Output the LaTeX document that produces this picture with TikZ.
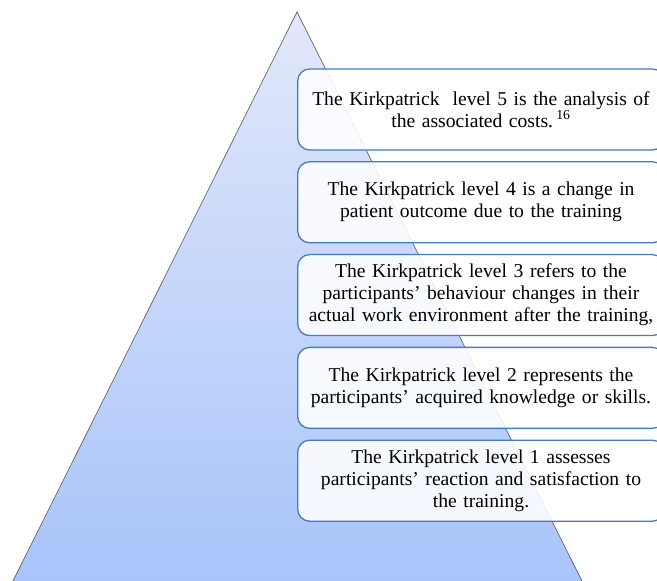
\documentclass[tikz,border=0pt]{standalone}
\usepackage{fontspec}
\setmainfont{Liberation Serif}
\usepackage{xcolor}
\usepackage{tikz}
\usetikzlibrary{positioning}

\definecolor{pyrtop}{RGB}{226,232,250}
\definecolor{pyrbottom}{RGB}{168,196,250}
\definecolor{boxline}{RGB}{72,122,190}

\begin{document}
\begin{tikzpicture}[
    x=1pt, y=1pt,
    node distance=10.5pt,
    levelbox/.style={rectangle, draw=boxline, line width=1.3pt, rounded corners=12pt, fill=white, fill opacity=0.88, text opacity=1, minimum width=366pt, minimum height=81pt, text width=360pt, align=center, font=\fontsize{19.6}{22}\selectfont},
]
\clip (0,0) rectangle (657,581);

% Pyramid
\shade[top color=pyrtop, bottom color=pyrbottom, draw=gray!80!black, line width=0.7pt]
    (297,569) -- (583,-2) -- (12,-2) -- cycle;

% Levels
\node[levelbox] (level5) at (481,471.5) {The Kirkpatrick\ \ level 5 is the analysis of\\the associated costs.\,\textsuperscript{16}};
\node[levelbox, below=of level5] (level4) {The Kirkpatrick level 4 is a change in\\patient outcome due to the training};
\node[levelbox, below=of level4] (level3) {The Kirkpatrick level 3 refers to the\\participants’ behaviour changes in their\\actual work environment after the training,};
\node[levelbox, below=of level3] (level2) {The Kirkpatrick level 2 represents the\\participants’ acquired knowledge or skills.};
\node[levelbox, below=of level2] (level1) {The Kirkpatrick level 1 assesses\\participants’ reaction and satisfaction to\\the training.};

\end{tikzpicture}
\end{document}
